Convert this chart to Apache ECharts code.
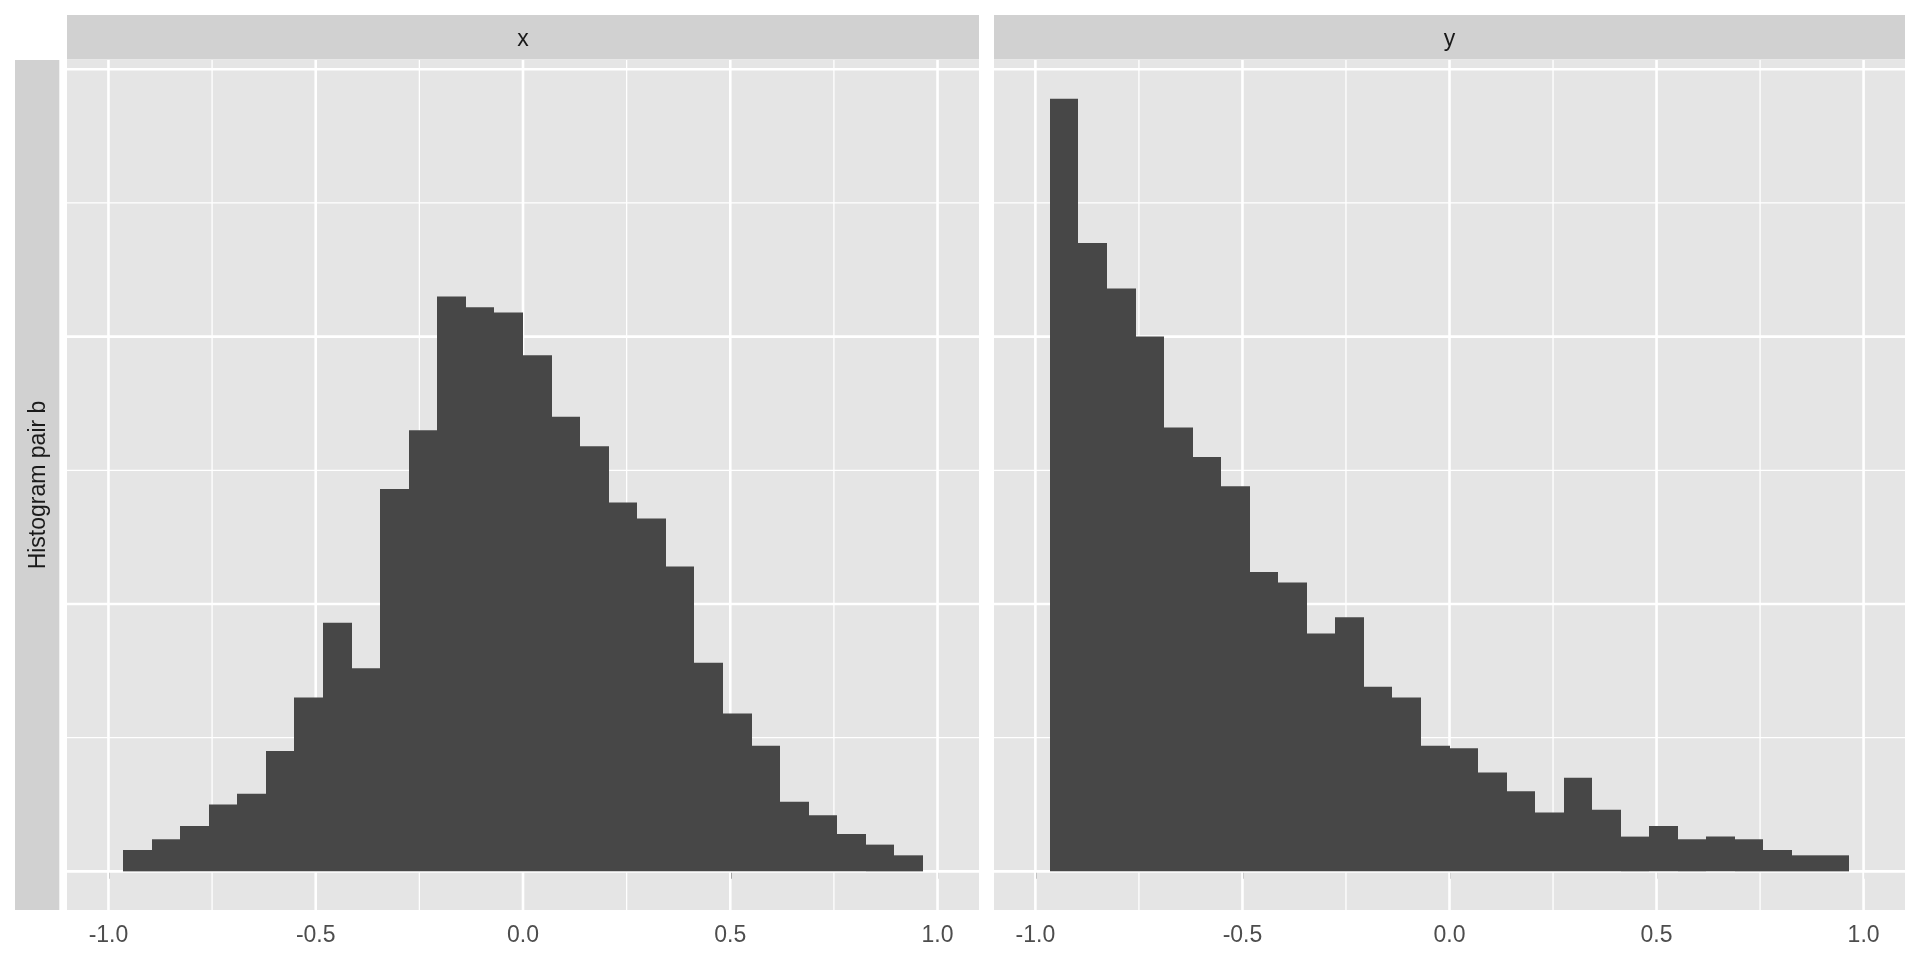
<!DOCTYPE html>
<html>
<head>
<meta charset="utf-8">
<title>Histogram pair b</title>
<script src="https://cdn.jsdelivr.net/npm/echarts@6/dist/echarts.min.js"></script>
<style>
  html, body { margin: 0; padding: 0; background: #fff; }
  #chart { width: 1920px; height: 960px; }
</style>
</head>
<body>
<div id="chart"></div>
<script>
// facet strips
var panelNames = ['x', 'y'];
var rowLabel = 'Histogram pair b';

// 28 equal-width bins between these limits
var binLo = -0.965;
var binHi = 0.965;

// counts per bin
var countsX = [8, 12, 17, 25, 29, 45, 65, 93, 76, 143, 165, 215, 211, 209, 193, 170, 159, 138, 132, 114, 78, 59, 47, 26, 21, 14, 10, 6];
var countsY = [289, 235, 218, 200, 166, 155, 144, 112, 108, 89, 95, 69, 65, 47, 46, 37, 30, 22, 35, 23, 13, 17, 12, 13, 12, 8, 6, 6];

// axis breaks
var xTicks = [-1, -0.5, 0, 0.5, 1];
var xMinor = [-0.75, -0.25, 0.25, 0.75];
var yMajor = [0, 100, 200, 300];
var yMinor = [50, 150, 250];

var FONT = '"Liberation Sans", Arial, Helvetica, sans-serif';
var BAR = '#474747';
var PANEL = '#E5E5E5';
var STRIP = '#D1D1D1';

function binData(counts) {
  var w = (binHi - binLo) / counts.length;
  return counts.map(function (c, i) {
    return [binLo + i * w, binLo + (i + 1) * w, c];
  });
}

// ggplot style: 5% expansion on both sides
var yTop = Math.max.apply(null, countsX.concat(countsY));
var yMin = -0.05 * yTop;
var yMax = 1.05 * yTop;

// [value, kind] kind: 0 major vertical, 1 minor vertical, 2 major horizontal, 3 minor horizontal
var gridLineData = [];
xTicks.forEach(function (v) { gridLineData.push([v, 0]); });
xMinor.forEach(function (v) { gridLineData.push([v, 1]); });
yMajor.forEach(function (v) { gridLineData.push([v, 2]); });
yMinor.forEach(function (v) { gridLineData.push([v, 3]); });

function renderGridLine(params, api) {
  var cs = params.coordSys;
  var v = api.value(0);
  var kind = api.value(1);
  var w = (kind === 0 || kind === 2) ? 2.6 : 1.3;
  var shape;
  if (kind < 2) {
    var x = api.coord([v, 0])[0];
    shape = { x1: x, y1: cs.y, x2: x, y2: cs.y + cs.height };
  } else {
    var y = api.coord([0, v])[1];
    shape = { x1: cs.x, y1: y, x2: cs.x + cs.width, y2: y };
  }
  return { type: 'line', shape: shape, style: { stroke: '#FFFFFF', lineWidth: w } };
}

function renderBar(params, api) {
  var p0 = api.coord([api.value(0), api.value(2)]);
  var p1 = api.coord([api.value(1), 0]);
  var x0 = Math.round(p0[0]);
  var x1 = Math.round(p1[0]);
  return {
    type: 'rect',
    shape: { x: x0, y: p0[1], width: x1 - x0, height: p1[1] - p0[1] },
    style: { fill: BAR }
  };
}

var panels = [
  { left: 67, width: 912, counts: countsX },
  { left: 994, width: 911, counts: countsY }
];
var panelTop = 60;
var panelHeight = 850;

var grids = [], xAxes = [], yAxes = [], series = [], graphics = [];

panels.forEach(function (p, i) {
  grids.push({
    left: p.left, top: panelTop, width: p.width, height: panelHeight,
    show: true, backgroundColor: PANEL, borderWidth: 0
  });
  xAxes.push({
    type: 'value', gridIndex: i, min: -1.1, max: 1.1,
    axisLine: { show: false },
    splitLine: { show: false },
    axisTick: {
      customValues: xTicks, length: 7.5,
      lineStyle: { color: '#333333', width: 2 }
    },
    axisLabel: {
      customValues: xTicks, margin: 14,
      color: '#4D4D4D', fontSize: 23, fontFamily: FONT,
      formatter: function (v) { return v.toFixed(1); }
    }
  });
  yAxes.push({ type: 'value', gridIndex: i, min: yMin, max: yMax, show: false });
  series.push({
    type: 'custom', name: 'grid' + i, xAxisIndex: i, yAxisIndex: i,
    z: 1, silent: true, renderItem: renderGridLine, data: gridLineData
  });
  series.push({
    type: 'custom', name: panelNames[i], xAxisIndex: i, yAxisIndex: i,
    z: 2, renderItem: renderBar, data: binData(p.counts),
    encode: { x: [0, 1], y: 2 }
  });
  // top strip
  graphics.push({
    type: 'rect', shape: { x: p.left, y: 15, width: p.width, height: 44.5 },
    style: { fill: STRIP }
  });
  graphics.push({
    type: 'text', x: p.left + p.width / 2, y: 39.5,
    style: {
      text: panelNames[i], fill: '#1A1A1A', font: '23px ' + FONT,
      align: 'center', verticalAlign: 'middle'
    }
  });
});

// left strip
graphics.push({
  type: 'rect', shape: { x: 15, y: panelTop, width: 44.3, height: panelHeight },
  style: { fill: STRIP }
});
graphics.push({
  type: 'text', x: 38.5, y: panelTop + panelHeight / 2, rotation: Math.PI / 2,
  style: {
    text: rowLabel, fill: '#1A1A1A', font: '23px ' + FONT,
    align: 'center', verticalAlign: 'middle'
  }
});

var chart = echarts.init(document.getElementById('chart'));
chart.setOption({
  backgroundColor: '#FFFFFF',
  animation: false,
  grid: grids,
  xAxis: xAxes,
  yAxis: yAxes,
  series: series,
  graphic: graphics
});
</script>
</body>
</html>
